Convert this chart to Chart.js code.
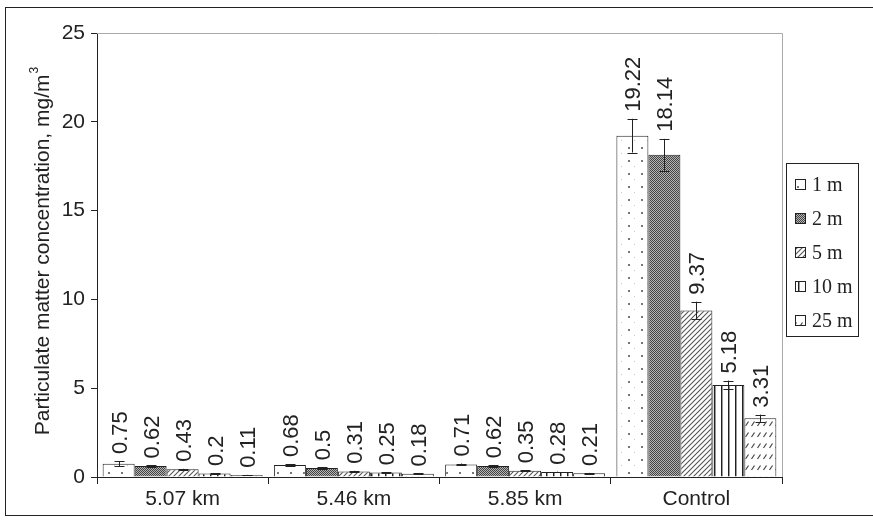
<!DOCTYPE html>
<html>
<head>
<meta charset="utf-8">
<script src="https://cdn.jsdelivr.net/npm/chart.js@4/dist/chart.umd.min.js"></script>
<style>
  html, body { margin: 0; padding: 0; background: #fff; }
  #wrap { width: 873px; height: 522px; }
</style>
</head>
<body>
<div id="wrap"><canvas id="c" width="873" height="522"></canvas></div>
<script>
// Sites where samples were taken
const categories = ['5.07 km', '5.46 km', '5.85 km', 'Control'];
// Sampling heights
const heights = ['1 m', '2 m', '5 m', '10 m', '25 m'];

// Mean particulate concentration (mg/m³) per height, per site
const h1m  = [0.75, 0.68, 0.71, 19.22];
const h2m  = [0.62, 0.50, 0.62, 18.14];
const h5m  = [0.43, 0.31, 0.35, 9.37];
const h10m = [0.20, 0.25, 0.28, 5.18];
const h25m = [0.11, 0.18, 0.21, 3.31];

// Standard deviation for each value
const e1m  = [0.15, 0.05, 0.05, 0.95];
const e2m  = [0.03, 0.05, 0.04, 0.90];
const e5m  = [0.03, 0.04, 0.03, 0.50];
const e10m = [0.02, 0.02, 0.02, 0.25];
const e25m = [0.01, 0.02, 0.02, 0.20];

const yTicks = [0, 5, 10, 15, 20, 25];
const yTitle = 'Particulate matter concentration, mg/m';
const yTitleSup = '3';

// ---- fill patterns ----
function tile(w, h, draw) {
  const c = document.createElement('canvas');
  c.width = w; c.height = h;
  const g = c.getContext('2d');
  g.fillStyle = '#fff';
  g.fillRect(0, 0, w, h);
  draw(g);
  return g.createPattern(c, 'repeat');
}
const patDots = tile(13, 13, g => {
  g.fillStyle = '#777'; g.fillRect(4, 4, 2, 2);
  g.fillStyle = '#c8c8c8'; g.fillRect(10, 10, 1, 1);
});
const patStipple = tile(2, 2, g => {
  g.fillStyle = '#b4b4b4'; g.fillRect(0, 0, 2, 2);
  g.fillStyle = '#444'; g.fillRect(0, 0, 1, 1); g.fillRect(1, 1, 1, 1);
});
const patDiag = tile(5, 5, g => {
  g.strokeStyle = '#555'; g.lineWidth = 1.1;
  g.beginPath();
  g.moveTo(-1, 6); g.lineTo(6, -1);
  g.moveTo(-1, 1); g.lineTo(1, -1);
  g.moveTo(4, 6); g.lineTo(6, 4);
  g.stroke();
});
const patVert = tile(7, 1, g => {
  g.fillStyle = '#222'; g.fillRect(0, 0, 1, 1);
  g.fillStyle = '#999'; g.fillRect(1, 0, 1, 1);
});
const patDash = tile(6, 11, g => {
  g.strokeStyle = '#444'; g.lineWidth = 1.2;
  g.beginPath();
  g.moveTo(1.5, 8); g.lineTo(4.5, 3.5);
  g.stroke();
});

const series = [
  { label: heights[0], data: h1m,  err: e1m,  fill: patDots },
  { label: heights[1], data: h2m,  err: e2m,  fill: patStipple },
  { label: heights[2], data: h5m,  err: e5m,  fill: patDiag },
  { label: heights[3], data: h10m, err: e10m, fill: patVert },
  { label: heights[4], data: h25m, err: e25m, fill: patDash }
];

const INK = '#222';
const SANS = "'Liberation Sans', Arial, sans-serif";
const SERIF = "'Liberation Serif', 'Times New Roman', serif";

// error bars, value labels, axis title, plot frame, legend and outer border
const decorations = {
  id: 'decorations',
  afterDatasetsDraw(chart) {
    const ctx = chart.ctx;
    const y = chart.scales.y;
    const area = chart.chartArea;

    // light frame on the top and right of the plot
    ctx.save();
    ctx.strokeStyle = '#aaa';
    ctx.lineWidth = 1;
    ctx.beginPath();
    ctx.moveTo(area.left, area.top + 0.5);
    ctx.lineTo(area.right + 0.5, area.top + 0.5);
    ctx.lineTo(area.right + 0.5, area.bottom);
    ctx.stroke();
    ctx.restore();

    chart.data.datasets.forEach((ds, di) => {
      const meta = chart.getDatasetMeta(di);
      meta.data.forEach((bar, i) => {
        const v = ds.data[i];
        const e = ds.err[i];
        const yTop = y.getPixelForValue(v + e);
        const yBot = y.getPixelForValue(Math.max(0, v - e));
        const x = Math.round(bar.x) + 0.5;
        ctx.save();
        ctx.strokeStyle = INK;
        ctx.lineWidth = 1;
        ctx.beginPath();
        ctx.moveTo(x, yTop); ctx.lineTo(x, yBot);
        ctx.moveTo(x - 5, Math.round(yTop) + 0.5); ctx.lineTo(x + 5, Math.round(yTop) + 0.5);
        ctx.moveTo(x - 5, Math.round(yBot) + 0.5); ctx.lineTo(x + 5, Math.round(yBot) + 0.5);
        ctx.stroke();
        ctx.restore();

        // value label, reading upward
        ctx.save();
        ctx.translate(bar.x + 1, yTop - 7);
        ctx.rotate(-Math.PI / 2);
        ctx.font = '22px ' + SANS;
        ctx.fillStyle = INK;
        ctx.textAlign = 'left';
        ctx.textBaseline = 'middle';
        ctx.fillText(String(v), 0, 1);
        ctx.restore();
      });
    });

    // y axis title with superscript
    ctx.save();
    ctx.translate(43, 251);
    ctx.rotate(-Math.PI / 2);
    ctx.fillStyle = INK;
    ctx.textBaseline = 'middle';
    ctx.textAlign = 'left';
    ctx.font = '21px ' + SANS;
    const wMain = ctx.measureText(yTitle).width;
    ctx.font = '12px ' + SANS;
    const wSup = ctx.measureText(yTitleSup).width;
    const x0 = -(wMain + wSup + 1) / 2;
    ctx.font = '21px ' + SANS;
    ctx.fillText(yTitle, x0, 0);
    ctx.font = '12px ' + SANS;
    ctx.fillText(yTitleSup, x0 + wMain + 1, -8);
    ctx.restore();

    // legend
    const lx = 786.5, ly = 163.5, lw = 72, lh = 173;
    ctx.save();
    ctx.strokeStyle = INK;
    ctx.lineWidth = 1;
    ctx.strokeRect(lx, ly, lw, lh);
    chart.data.datasets.forEach((ds, di) => {
      const cy = 185 + di * 34;
      ctx.fillStyle = ds.backgroundColor;
      ctx.fillRect(795, cy - 6, 11, 11);
      ctx.strokeStyle = INK;
      ctx.strokeRect(795.5, cy - 5.5, 10, 10);
      ctx.fillStyle = INK;
      ctx.font = '20px ' + SERIF;
      ctx.textAlign = 'left';
      ctx.textBaseline = 'middle';
      ctx.fillText(ds.label, 812, cy + 1);
    });
    ctx.restore();

    // figure border
    ctx.save();
    ctx.strokeStyle = INK;
    ctx.lineWidth = 1;
    ctx.strokeRect(5.5, 7.5, 900, 508);
    ctx.restore();
  }
};

new Chart(document.getElementById('c'), {
  type: 'bar',
  data: {
    labels: categories,
    datasets: series.map(s => ({
      label: s.label,
      data: s.data,
      err: s.err,
      backgroundColor: s.fill,
      borderColor: INK,
      borderWidth: 1,
      categoryPercentage: 0.934,
      barPercentage: 1.0
    }))
  },
  options: {
    responsive: false,
    animation: false,
    devicePixelRatio: 1,
    layout: { padding: { left: 22, top: 33, right: 91, bottom: 0 } },
    plugins: {
      legend: { display: false },
      tooltip: { enabled: false }
    },
    scales: {
      x: {
        grid: { offset: true, drawOnChartArea: false, drawTicks: true, tickLength: 7, color: INK },
        border: { color: INK, width: 1 },
        ticks: { font: { family: SANS, size: 21 }, color: INK, padding: 3 },
        afterFit(scale) { scale.height = 45; }
      },
      y: {
        min: 0,
        max: 25,
        afterBuildTicks(scale) { scale.ticks = yTicks.map(v => ({ value: v })); },
        grid: { drawOnChartArea: false, drawTicks: true, tickLength: 6, color: INK },
        border: { color: INK, width: 1 },
        ticks: { font: { family: SANS, size: 21 }, color: INK, padding: 6 },
        afterFit(scale) { scale.width = 75; }
      }
    }
  },
  plugins: [decorations]
});
</script>
</body>
</html>
